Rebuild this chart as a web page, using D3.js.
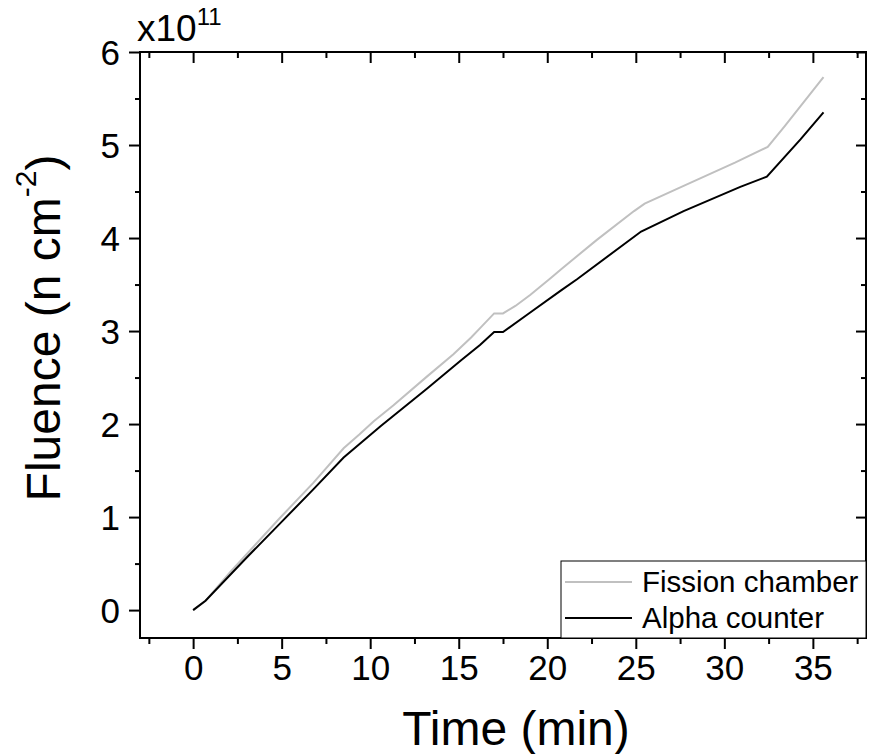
<!DOCTYPE html>
<html>
<head>
<meta charset="utf-8">
<script src="https://cdn.jsdelivr.net/npm/d3@7"></script>
<style>
  body { margin: 0; background: #fff; }
  svg text { font-family: "Liberation Sans", Arial, sans-serif; fill: #000; }
</style>
</head>
<body>
<svg id="chart" width="878" height="754"></svg>
<script>
// valores (Fluence en unidades de 1e11 n cm^-2)
var timeFission = [0, 0.7, 2.1, 3.5, 4.9, 6.8, 8.5, 9.4, 10.2, 11.3, 13.2, 14.7, 15.7, 16.3, 17.0, 17.5, 18.2, 19.05, 20.2, 20.75, 22.8, 24.9, 25.5, 27.7, 30.6, 32.45, 33.4, 35.6];
var fission     = [0, 0.10, 0.41, 0.70, 0.99, 1.37, 1.74, 1.89, 2.03, 2.20, 2.51, 2.75, 2.93, 3.05, 3.19, 3.19, 3.27, 3.39, 3.57, 3.66, 3.98, 4.29, 4.37, 4.56, 4.81, 4.98, 5.20, 5.73];

var timeAlpha = [0, 0.7, 3.0, 4.9, 6.8, 8.5, 10.6, 13.2, 15.1, 16.2, 17.0, 17.5, 18.9, 20.8, 21.7, 25.3, 27.7, 30.9, 32.4, 34.3, 35.6];
var alpha     = [0, 0.10, 0.56, 0.93, 1.30, 1.64, 1.98, 2.38, 2.68, 2.85, 2.99, 2.99, 3.18, 3.44, 3.56, 4.07, 4.29, 4.55, 4.66, 5.06, 5.35];

var xMajor = [0, 5, 10, 15, 20, 25, 30, 35];
var xMinor = [-2.5, 2.5, 7.5, 12.5, 17.5, 22.5, 27.5, 32.5, 37.5];
var yMajor = [0, 1, 2, 3, 4, 5, 6];
var yMinor = [0.5, 1.5, 2.5, 3.5, 4.5, 5.5];

var seriesNames = ["Fission chamber", "Alpha counter"];
var seriesColors = ["#c0c0c0", "#000000"];

var svg = d3.select("#chart");
var pLeft = 140, pRight = 866, pTop = 52, pBottom = 638;

var x = d3.scaleLinear().domain([-3, 38]).range([pLeft, pRight]);
var y = d3.scaleLinear().domain([-0.3, 6]).range([pBottom, pTop]);

// EJES (abajo e izquierda hacia afuera, arriba y derecha hacia adentro)
function drawAxis(axis, tx, ty) {
  var g = svg.append("g").attr("transform", "translate(" + tx + "," + ty + ")").call(axis);
  g.select(".domain").remove();
  g.selectAll(".tick line").attr("stroke", "#000").attr("stroke-width", 2);
  return g;
}

var gx = drawAxis(d3.axisBottom(x).tickValues(xMajor).tickSize(11).tickPadding(4).tickFormat(d3.format("d")), 0, pBottom);
drawAxis(d3.axisBottom(x).tickValues(xMinor).tickSize(6).tickFormat(""), 0, pBottom);
drawAxis(d3.axisTop(x).tickValues(xMajor).tickSize(-11).tickFormat(""), 0, pTop);
drawAxis(d3.axisTop(x).tickValues(xMinor).tickSize(-6).tickFormat(""), 0, pTop);

var gy = drawAxis(d3.axisLeft(y).tickValues(yMajor).tickSize(11).tickPadding(9).tickFormat(d3.format("d")), pLeft, 0);
drawAxis(d3.axisLeft(y).tickValues(yMinor).tickSize(5).tickFormat(""), pLeft, 0);
drawAxis(d3.axisRight(y).tickValues(yMajor).tickSize(-10).tickFormat(""), pRight, 0);
drawAxis(d3.axisRight(y).tickValues(yMinor).tickSize(-5).tickFormat(""), pRight, 0);

gx.selectAll(".tick text").attr("font-size", 35).attr("dy", "0.78em")
  .style("font-family", '"Liberation Sans", Arial, sans-serif').attr("fill", "#000");
gy.selectAll(".tick text").attr("font-size", 35).attr("dy", "0.36em")
  .style("font-family", '"Liberation Sans", Arial, sans-serif').attr("fill", "#000");

// marco
svg.append("rect")
  .attr("x", pLeft).attr("y", pTop)
  .attr("width", pRight - pLeft).attr("height", pBottom - pTop)
  .attr("fill", "none").attr("stroke", "#000").attr("stroke-width", 2);

// LINEAS
var line = d3.line().x(function(d) { return x(d[0]); }).y(function(d) { return y(d[1]); });
var dataFission = d3.zip(timeFission, fission);
var dataAlpha = d3.zip(timeAlpha, alpha);

svg.append("path").datum(dataFission)
  .attr("d", line).attr("fill", "none")
  .attr("stroke", seriesColors[0]).attr("stroke-width", 2);
svg.append("path").datum(dataAlpha)
  .attr("d", line).attr("fill", "none")
  .attr("stroke", seriesColors[1]).attr("stroke-width", 2);

// multiplicador
var mult = svg.append("text").attr("x", 137).attr("y", 41).attr("font-size", 37);
mult.append("tspan").text("x10");
mult.append("tspan").attr("font-size", 24).attr("dy", -16).text("11");

// titulos
svg.append("text")
  .attr("x", (pLeft + pRight) / 2 + 13).attr("y", 745)
  .attr("text-anchor", "middle").attr("font-size", 48)
  .text("Time (min)");

var yt = svg.append("text")
  .attr("transform", "translate(60,328) rotate(-90)")
  .attr("text-anchor", "middle").attr("font-size", 48);
yt.append("tspan").text("Fluence (n cm");
yt.append("tspan").attr("font-size", 30).attr("dy", -24).text("-2");
yt.append("tspan").attr("dy", 24).text(")");

// LEYENDA
var lg = svg.append("g");
lg.append("rect")
  .attr("x", 561).attr("y", 561).attr("width", pRight - 561).attr("height", pBottom - 561)
  .attr("fill", "#fff").attr("stroke", "#000").attr("stroke-width", 1);
var rowsY = [582, 618];
seriesNames.forEach(function(name, i) {
  lg.append("line")
    .attr("x1", 565).attr("x2", 632).attr("y1", rowsY[i]).attr("y2", rowsY[i])
    .attr("stroke", seriesColors[i]).attr("stroke-width", 2);
  lg.append("text")
    .attr("x", 642).attr("y", rowsY[i] + 10)
    .attr("font-size", 29.5)
    .text(name);
});
</script>
</body>
</html>
